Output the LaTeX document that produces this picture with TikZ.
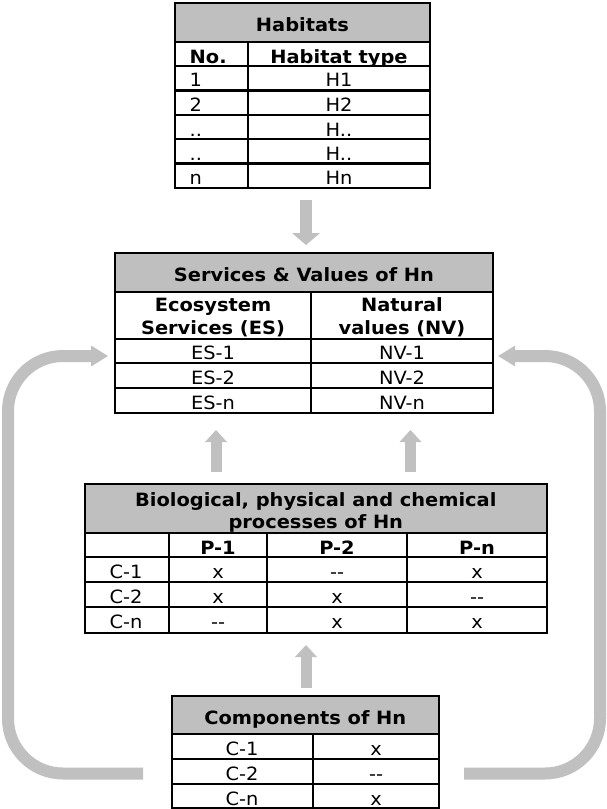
\documentclass[tikz,border=0pt]{standalone}
\usepackage{fontspec}
\setmainfont{DejaVu Sans}[FakeStretch=1.06]
\usetikzlibrary{arrows.meta,calc}
\definecolor{hdr}{RGB}{191,191,191}
\definecolor{arr}{RGB}{192,192,192}
\tikzset{
  tline/.style={line width=2.2pt, draw=black},
  frame/.style={draw=black, line width=2.2pt, inner sep=0pt, outer sep=0pt},
  cell/.style={anchor=base, inner sep=0pt, font=\fontsize{18.3}{21}\selectfont},
  bcell/.style={anchor=base, inner sep=0pt, font=\fontsize{18.3}{21}\selectfont\bfseries},
  fat/.style={line width=11pt, draw=arr, -{Triangle[width=22pt,length=12pt,line width=0pt]}},
  fatdown/.style={line width=12pt, draw=arr, -{Triangle[width=28pt,length=12pt,line width=0pt]}},
  loopar/.style={line width=12pt, draw=arr, rounded corners=55pt, -{Triangle[width=21pt,length=17pt,line width=0pt]}}
}
\begin{document}
\begin{tikzpicture}[x=1pt,y=-1pt]
\useasboundingbox (0,0) rectangle (607,809);

% ---------- Habitats ----------
\fill[hdr] (175,3) rectangle (430,42);
\node[frame, minimum width=255pt, minimum height=185pt] (hab) at (302.5,95.5) {};
\draw[tline] (175,42) -- (430,42) (175,66) -- (430,66) (175,90.5) -- (430,90.5)
  (175,115) -- (430,115) (175,139) -- (430,139) (175,163.5) -- (430,163.5)
  (248,42) -- (248,188);
\node[bcell] (habh) at (302.5,31.5) {Habitats};
\node[bcell, anchor=base west] (habno) at (189.5,63) {No.};
\node[bcell] (habty) at (339,63) {Habitat type};
\node[cell, anchor=base west] (hr1a) at (189.5,86.8) {1};
\node[cell] (hr1b) at (339,86.8) {H1};
\node[cell, anchor=base west] (hr2a) at (189.5,111.5) {2};
\node[cell] (hr2b) at (339,111.5) {H2};
\node[cell, anchor=base west] (hr3a) at (189.5,136) {..};
\node[cell] (hr3b) at (339,136) {H..};
\node[cell, anchor=base west] (hr4a) at (189.5,160.25) {..};
\node[cell] (hr4b) at (339,160.25) {H..};
\node[cell, anchor=base west] (hr5a) at (189.5,184.75) {n};
\node[cell] (hr5b) at (339,184.75) {Hn};

% ---------- Services & Values ----------
\fill[hdr] (115,253.3) rectangle (492.7,291.7);
\node[frame, minimum width=377.7pt, minimum height=160pt] (serv) at (303.85,333.3) {};
\draw[tline] (115,291.7) -- (492.7,291.7) (115,339) -- (492.7,339)
  (115,362.7) -- (492.7,362.7) (115,388.3) -- (492.7,388.3)
  (311,291.7) -- (311,413.3);
\node[bcell] (servh) at (304,281.5) {Services \& Values of Hn};
\node[bcell] (es1) at (213,311.5) {Ecosystem};
\node[bcell] (es2) at (213,334.5) {Services (ES)};
\node[bcell] (nv1) at (402,311.5) {Natural};
\node[bcell] (nv2) at (402,334.5) {values (NV)};
\node[cell] (sr1a) at (213,359.85) {ES-1};
\node[cell] (sr1b) at (402,359.85) {NV-1};
\node[cell] (sr2a) at (213,384.5) {ES-2};
\node[cell] (sr2b) at (402,384.5) {NV-2};
\node[cell] (sr3a) at (213,409.8) {ES-n};
\node[cell] (sr3b) at (402,409.8) {NV-n};

% ---------- Processes ----------
\fill[hdr] (85,484) rectangle (546.7,533.3);
\node[frame, minimum width=461.7pt, minimum height=148.7pt] (proc) at (315.85,558.35) {};
\draw[tline] (85,533.3) -- (546.7,533.3) (85,557.3) -- (546.7,557.3)
  (85,581.7) -- (546.7,581.7) (85,606.7) -- (546.7,606.7)
  (169.3,533.3) -- (169.3,632.7) (266.7,533.3) -- (266.7,632.7)
  (406.7,533.3) -- (406.7,632.7);
\node[bcell] (proch1) at (315.8,506) {Biological, physical and chemical};
\node[bcell] (proch2) at (315.8,528.5) {processes of Hn};
\node[bcell] (p1) at (218,554.3) {P-1};
\node[bcell] (p2) at (337,554.3) {P-2};
\node[bcell] (pn) at (477,554.3) {P-n};
\node[cell] (pc1) at (126,578.5) {C-1};
\node[cell] (pc1a) at (218,578.5) {x};
\node[cell] (pc1b) at (337,578.5) {-{}-};
\node[cell] (pc1c) at (477,578.5) {x};
\node[cell] (pc2) at (126,603.2) {C-2};
\node[cell] (pc2a) at (218,603.2) {x};
\node[cell] (pc2b) at (337,603.2) {x};
\node[cell] (pc2c) at (477,603.2) {-{}-};
\node[cell] (pc3) at (126,628.7) {C-n};
\node[cell] (pc3a) at (218,628.7) {-{}-};
\node[cell] (pc3b) at (337,628.7) {x};
\node[cell] (pc3c) at (477,628.7) {x};

% ---------- Components ----------
\fill[hdr] (171.7,696) rectangle (438.8,734.3);
\node[frame, minimum width=267.1pt, minimum height=112pt] (comp) at (305.25,752) {};
\draw[tline] (171.7,734.3) -- (438.8,734.3) (171.7,759) -- (438.8,759)
  (171.7,784) -- (438.8,784) (313,734.3) -- (313,808);
\node[bcell] (comph) at (305.3,724) {Components of Hn};
\node[cell] (cr1a) at (242,755.7) {C-1};
\node[cell] (cr1b) at (376,755.7) {x};
\node[cell] (cr2a) at (242,780.5) {C-2};
\node[cell] (cr2b) at (376,780.5) {-{}-};
\node[cell] (cr3a) at (242,805.5) {C-n};
\node[cell] (cr3b) at (376,805.5) {x};

% ---------- Arrows ----------
\draw[fatdown] ($(hab.south)+(3.5,12)$) -- ($(serv.north |- 0,245)+(2.15,0)$);
\draw[fat] ($(proc.north)+(-99.85,-12.3)$) -- ($(serv.south)+(-87.85,16.7)$);
\draw[fat] ($(proc.north)+(94.65,-12.3)$) -- ($(serv.south)+(106.65,16.7)$);
\draw[fat] ($(comp.north)+(0.75,-7.7)$) -- ($(proc.south)+(-9.85,12.3)$);

\coordinate (lstart) at (143,773.5);
\coordinate (rstart) at (464,773.5);
\draw[loopar] (lstart) -- (8,773.5) -- (8,356) -- ($(serv.west |- 0,356)+(-7,0)$);
\draw[loopar] (rstart) -- (600,773.5) -- (600,356) -- ($(serv.east |- 0,356)+(5.5,0)$);
\end{tikzpicture}
\end{document}
